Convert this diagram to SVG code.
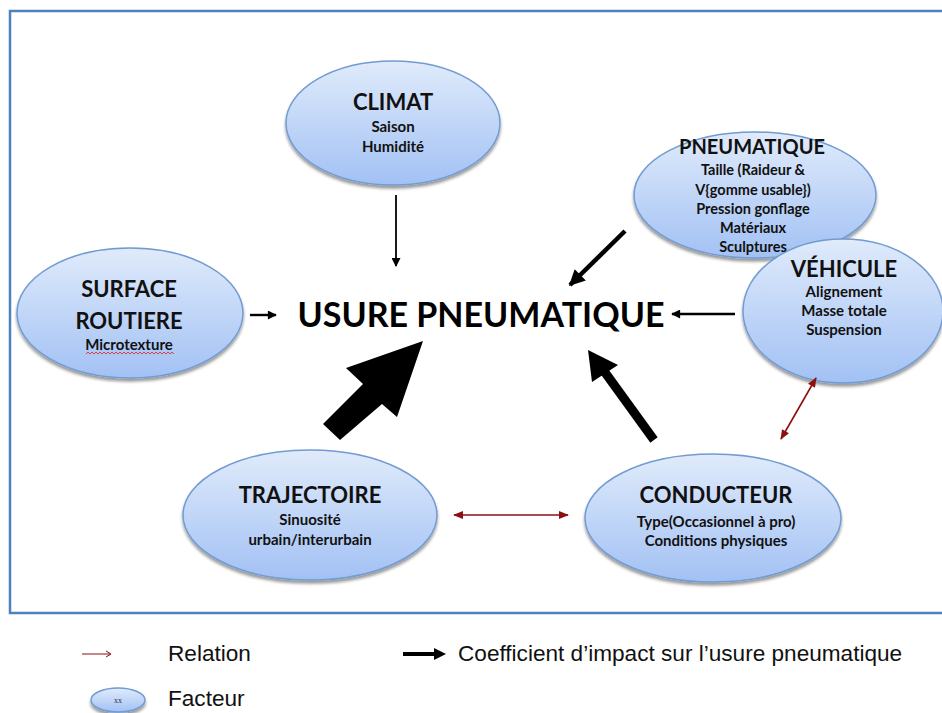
<svg xmlns="http://www.w3.org/2000/svg" width="942" height="713" viewBox="0 0 942 713">
<defs>
<linearGradient id="g" x1="0" y1="0" x2="0" y2="1">
<stop offset="0" stop-color="#e0ebfb"/>
<stop offset="1" stop-color="#a2c1f4"/>
</linearGradient>
<filter id="sh" x="-10%" y="-10%" width="120%" height="130%">
<feDropShadow dx="0" dy="3" stdDeviation="1.5" flood-color="#000" flood-opacity="0.4"/>
</filter>
<marker id="ms" viewBox="0 0 10 10" refX="9" refY="5" markerWidth="11" markerHeight="9" orient="auto" markerUnits="userSpaceOnUse">
<path d="M0,0 L10,5 L0,10 z" fill="#000"/>
</marker>
<marker id="ml" viewBox="0 0 10 10" refX="9" refY="5" markerWidth="17" markerHeight="16" orient="auto" markerUnits="userSpaceOnUse">
<path d="M0,0 L10,5 L0,10 z" fill="#000"/>
</marker>
<marker id="mr" viewBox="0 0 10 10" refX="9" refY="5" markerWidth="11" markerHeight="10" orient="auto-start-reverse" markerUnits="userSpaceOnUse">
<path d="M0,1 L10,5 L0,9 z" fill="#8b1010"/>
</marker>
<style>
.n{fill:url(#g);stroke:#729bd2;stroke-width:1.5;filter:url(#sh)}
.t{font-family:Lato,"Open Sans","Liberation Sans",sans-serif;font-weight:bold;text-anchor:middle;fill:#111}
.h{font-size:22px}
.s{font-size:15px}
.p{font-size:14.5px}
.k{stroke:#000;fill:none}
.r{stroke:#8b1010;stroke-width:1.6;fill:none}
.lg{font-family:"Liberation Sans",Arial,sans-serif;font-size:22.6px;fill:#111}
</style>
</defs>
<rect x="10" y="11" width="945" height="602" fill="#fff" stroke="#4f81bd" stroke-width="2.5"/>

<g id="climat">
<ellipse class="n" cx="393" cy="123" rx="107" ry="62"/>
<text class="t h" x="393" y="110">CLIMAT</text>
<text class="t s" x="393" y="132">Saison</text>
<text class="t s" x="393" y="152">Humidité</text>
</g>

<g id="pneumatique">
<ellipse class="n" cx="755" cy="195" rx="121" ry="63"/>
</g>

<g id="vehicule">
<ellipse class="n" cx="843" cy="311" rx="100" ry="72"/>
<text class="t h" x="844" y="277">VÉHICULE</text>
<text class="t s" x="844" y="297">Alignement</text>
<text class="t s" x="844" y="316">Masse totale</text>
<text class="t s" x="844" y="335">Suspension</text>
</g>

<g id="pneumatique-label">
<text class="t" x="752" y="154" font-size="20">PNEUMATIQUE</text>
<text class="t p" x="753" y="175">Taille (Raideur &amp;</text>
<text class="t p" x="753" y="195">V{gomme usable})</text>
<text class="t p" x="753" y="214">Pression gonflage</text>
<text class="t p" x="753" y="233">Matériaux</text>
<text class="t p" x="753" y="252">Sculptures</text>
</g>

<g id="surface">
<ellipse class="n" cx="130" cy="313" rx="113" ry="65"/>
<text class="t h" x="129" y="297">SURFACE</text>
<text class="t h" x="129" y="329">ROUTIERE</text>
<text class="t s" x="129" y="350">Microtexture</text>
<path d="M86,354 l2,-2 l2,2 l2,-2 l2,2 l2,-2 l2,2 l2,-2 l2,2 l2,-2 l2,2 l2,-2 l2,2 l2,-2 l2,2 l2,-2 l2,2 l2,-2 l2,2 l2,-2 l2,2 l2,-2 l2,2 l2,-2 l2,2 l2,-2 l2,2 l2,-2 l2,2 l2,-2 l2,2 l2,-2 l2,2 l2,-2 l2,2 l2,-2 l2,2 l2,-2 l2,2 l2,-2 l2,2 l2,-2 l2,2 l2,-2 l2,2" stroke="#e02020" stroke-width="0.8" fill="none"/>
</g>

<g id="trajectoire">
<ellipse class="n" cx="310" cy="515" rx="127" ry="65"/>
<text class="t h" x="310" y="503">TRAJECTOIRE</text>
<text class="t s" x="310" y="525">Sinuosité</text>
<text class="t s" x="310" y="545">urbain/interurbain</text>
</g>

<g id="conducteur">
<ellipse class="n" cx="713" cy="518" rx="128" ry="64"/>
<text class="t h" x="716" y="503">CONDUCTEUR</text>
<text class="t s" x="716" y="527">Type(Occasionnel à pro)</text>
<text class="t s" x="716" y="546">Conditions physiques</text>
</g>

<g id="center">
<text x="481" y="327" font-family="Lato,'Open Sans','Liberation Sans',sans-serif" font-weight="bold" font-size="34" text-anchor="middle" fill="#000">USURE PNEUMATIQUE</text>
</g>

<g id="connectors">
<line class="k" x1="396" y1="195" x2="396" y2="266" stroke-width="1.8" marker-end="url(#ms)"/>
<line class="k" x1="250" y1="315" x2="276" y2="315" stroke-width="2.4" marker-end="url(#ms)"/>
<line class="k" x1="625" y1="231" x2="570" y2="285" stroke-width="4.5" marker-end="url(#ml)"/>
<line class="k" x1="735" y1="314" x2="672" y2="314" stroke-width="2.4" marker-end="url(#ms)"/>
<path d="M423,341 L397,417 L382,404 L340,440 L323,424 L363,384 L346,368 Z" fill="#000"/>
<line x1="654" y1="440" x2="604" y2="371" stroke="#000" stroke-width="9"/>
<path d="M588,350 L618,365 L592,382 Z" fill="#000"/>
<line class="r" x1="454" y1="515" x2="568" y2="515" marker-start="url(#mr)" marker-end="url(#mr)"/>
<line class="r" x1="781" y1="439" x2="816" y2="378" marker-start="url(#mr)" marker-end="url(#mr)"/>
</g>

<g id="legend">
<line x1="82" y1="654" x2="110" y2="654" stroke="#8b1010" stroke-width="1"/>
<path d="M106,651 L111,654 L106,657" stroke="#8b1010" stroke-width="1" fill="none"/>
<text class="lg" x="168" y="661">Relation</text>
<line x1="403" y1="654" x2="436" y2="654" stroke="#000" stroke-width="4"/>
<path d="M434,648 L446,654 L434,660 Z" fill="#000"/>
<text class="lg" x="458" y="661">Coefficient d’impact sur l’usure pneumatique</text>
<ellipse class="n" cx="118" cy="700" rx="27" ry="12" stroke-width="1"/>
<text x="118" y="703" font-family="'Liberation Serif',serif" font-size="8" text-anchor="middle" fill="#333">xx</text>
<text class="lg" x="168" y="706">Facteur</text>
</g>
</svg>
